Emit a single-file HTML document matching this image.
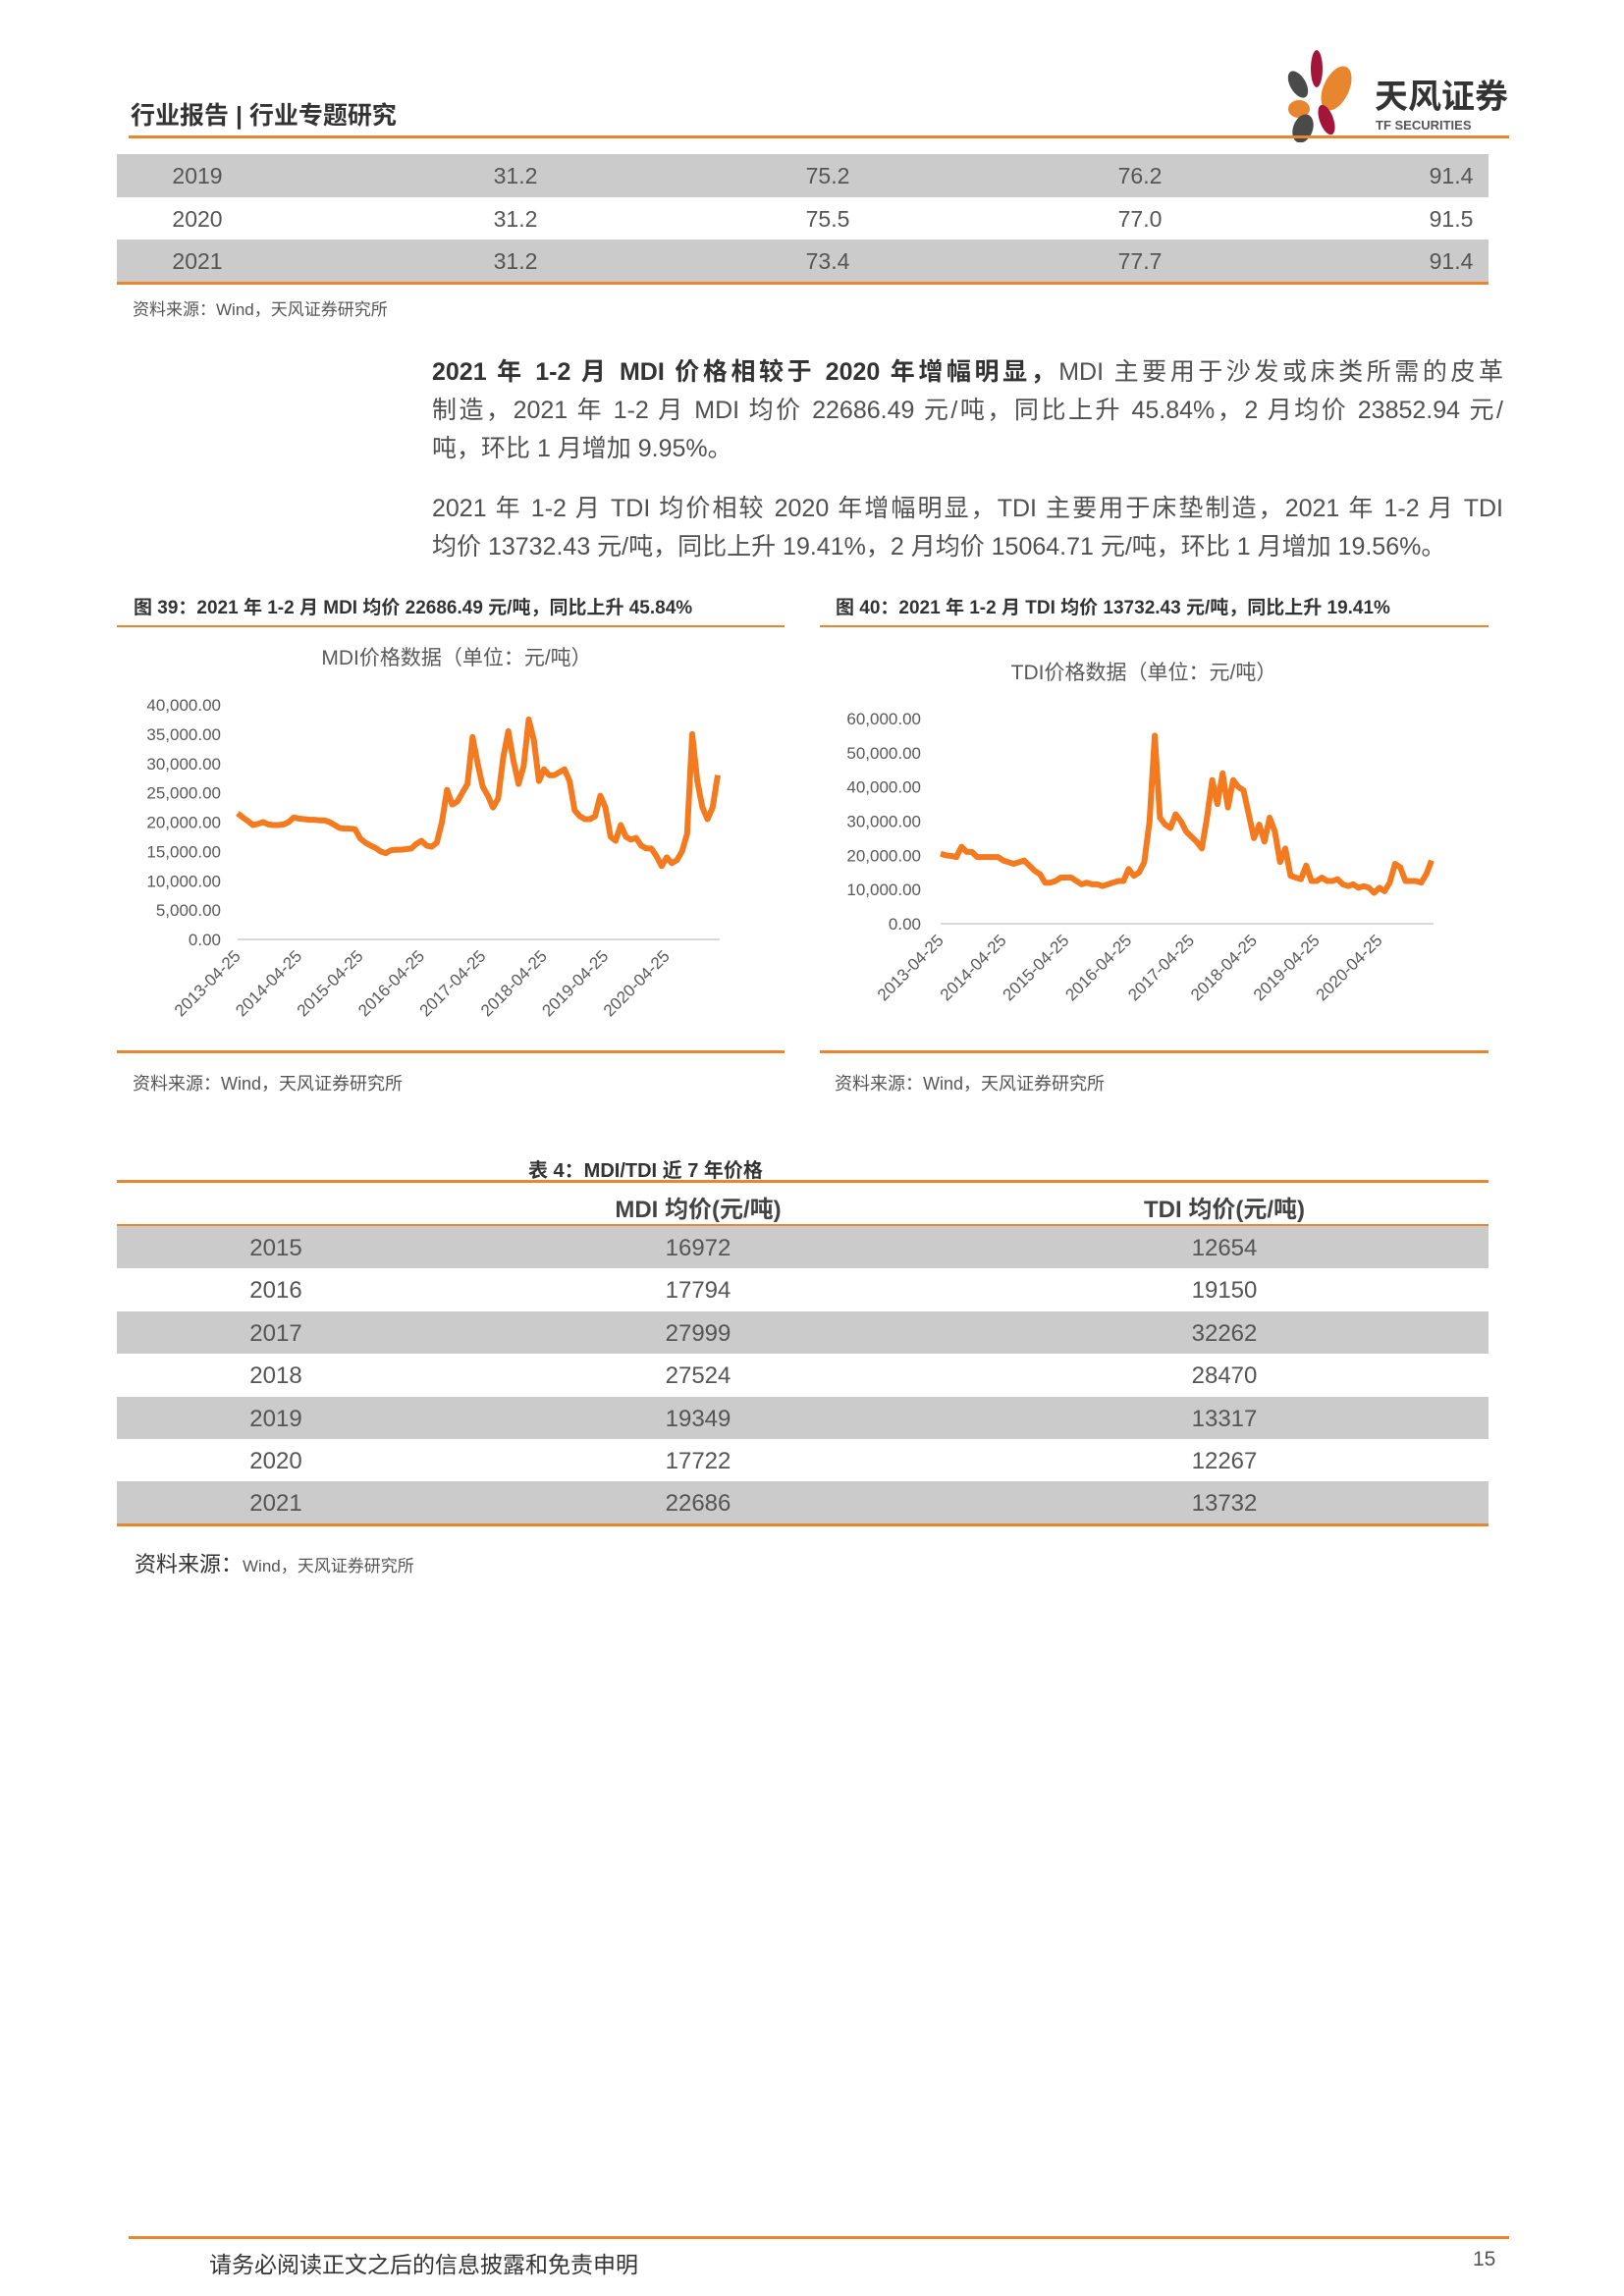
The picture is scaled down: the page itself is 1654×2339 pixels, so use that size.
<!DOCTYPE html>
<html><head><meta charset="utf-8">
<style>
body{margin:0;background:#fff;}
#page{position:relative;width:1654px;height:2339px;overflow:hidden;font-family:"Liberation Sans","Noto Sans CJK SC",sans-serif;color:#404040;}
.a{position:absolute;white-space:nowrap;}
.hl{position:absolute;height:3px;background:#E8862F;}
.row{position:absolute;left:119px;width:1397px;}
.gray{background:#CBCBCB;}
.c{position:absolute;transform:translateX(-50%);}
.para{position:absolute;left:440px;width:1091px;font-size:25px;line-height:39px;color:#505050;}
.para div{text-align:justify;text-align-last:justify;height:39px;white-space:nowrap;}
.para div.last{text-align-last:left;}
</style></head><body>
<div id="page">

<div class="a" style="left:133px;top:98px;font-size:25px;font-weight:bold;color:#333;">行业报告 | 行业专题研究</div>
<svg class="a" style="left:1305px;top:50px" width="240" height="95">
 <ellipse cx="36" cy="20" rx="6" ry="19" fill="#A3163A"/>
 <ellipse cx="17" cy="36" rx="8" ry="15" fill="#4A4A4A" transform="rotate(-30 17 36)"/>
 <ellipse cx="56" cy="40" rx="13" ry="24" fill="#E8862F" transform="rotate(25 56 40)"/>
 <ellipse cx="18" cy="61" rx="11" ry="9" fill="#E8862F"/>
 <ellipse cx="22" cy="81" rx="10" ry="15" fill="#4A4A4A" transform="rotate(20 22 81)"/>
 <ellipse cx="46" cy="72" rx="7" ry="16" fill="#A3163A" transform="rotate(-20 46 72)"/>
 <text x="95" y="60" font-size="34" font-weight="bold" fill="#333" font-family="Liberation Sans, Noto Sans CJK SC, sans-serif">天风证券</text>
 <text x="96" y="82" font-size="13" font-weight="bold" fill="#555" font-family="Liberation Sans, sans-serif">TF SECURITIES</text>
</svg>
<div class="hl" style="left:131px;top:138px;width:1406px;"></div>

<!-- top table -->
<div style="font-size:23px;color:#555;">
 <div class="row gray" style="top:157px;height:44px;">
  <span class="c" style="left:82px;top:9px">2019</span><span class="c" style="left:406px;top:9px">31.2</span><span class="c" style="left:724px;top:9px">75.2</span><span class="c" style="left:1042px;top:9px">76.2</span><span class="c" style="left:1359px;top:9px">91.4</span></div>
 <div class="row" style="top:201px;height:43px;">
  <span class="c" style="left:82px;top:9px">2020</span><span class="c" style="left:406px;top:9px">31.2</span><span class="c" style="left:724px;top:9px">75.5</span><span class="c" style="left:1042px;top:9px">77.0</span><span class="c" style="left:1359px;top:9px">91.5</span></div>
 <div class="row gray" style="top:244px;height:44px;">
  <span class="c" style="left:82px;top:9px">2021</span><span class="c" style="left:406px;top:9px">31.2</span><span class="c" style="left:724px;top:9px">73.4</span><span class="c" style="left:1042px;top:9px">77.7</span><span class="c" style="left:1359px;top:9px">91.4</span></div>
 <div class="hl" style="left:119px;top:287px;width:1397px;"></div>
</div>
<div class="a" style="left:135px;top:301px;font-size:17px;color:#555;">资料来源：Wind，天风证券研究所</div>

<div class="para" style="top:360px">
 <div><b style="color:#333">2021 年 1-2 月 MDI 价格相较于 2020 年增幅明显，</b>MDI 主要用于沙发或床类所需的皮革</div>
 <div>制造，2021 年 1-2 月 MDI 均价 22686.49 元/吨，同比上升 45.84%，2 月均价 23852.94 元/</div>
 <div class="last">吨，环比 1 月增加 9.95%。</div>
</div>
<div class="para" style="top:499px">
 <div>2021 年 1-2 月 TDI 均价相较 2020 年增幅明显，TDI 主要用于床垫制造，2021 年 1-2 月 TDI</div>
 <div class="last">均价 13732.43 元/吨，同比上升 19.41%，2 月均价 15064.71 元/吨，环比 1 月增加 19.56%。</div>
</div>

<div class="a" style="left:136px;top:604px;font-size:19px;font-weight:bold;color:#333;">图 39：2021 年 1-2 月 MDI 均价 22686.49 元/吨，同比上升 45.84%</div>
<div class="hl" style="left:119px;top:637px;width:680px;height:2px"></div>
<div class="a" style="left:851px;top:604px;font-size:19px;font-weight:bold;color:#333;">图 40：2021 年 1-2 月 TDI 均价 13732.43 元/吨，同比上升 19.41%</div>
<div class="hl" style="left:835px;top:637px;width:681px;height:2px"></div>

<svg class="a" id="chartMDI" style="left:0;top:0" width="827" height="1100"></svg>
<svg class="a" id="chartTDI" style="left:0;top:0" width="1654" height="1100"></svg>

<div class="hl" style="left:119px;top:1070px;width:680px;"></div>
<div class="hl" style="left:835px;top:1070px;width:681px;"></div>
<div class="a" style="left:135px;top:1090px;font-size:18px;color:#555;">资料来源：Wind，天风证券研究所</div>
<div class="a" style="left:850px;top:1090px;font-size:18px;color:#555;">资料来源：Wind，天风证券研究所</div>

<!-- table 4 -->
<div class="a" style="left:538px;top:1176px;font-size:20px;font-weight:bold;color:#333;">表 4：MDI/TDI 近 7 年价格</div>
<div class="hl" style="left:119px;top:1202px;width:1397px;"></div>
<div style="font-size:24px;color:#555;">
 <div class="row" style="top:1205px;height:43px;font-weight:bold;color:#444;">
  <span class="c" style="left:592px;top:7px">MDI 均价(元/吨)</span><span class="c" style="left:1128px;top:7px">TDI 均价(元/吨)</span></div>
 <div class="hl" style="left:119px;top:1247px;width:1397px;"></div>
 <div id="t4rows"></div>
 <div class="hl" style="left:119px;top:1552px;width:1397px;"></div>
</div>
<div class="a" style="left:137px;top:1576px;font-size:22px;color:#333;">资料来源：<span style="font-size:17px;color:#555">Wind，天风证券研究所</span></div>

<div class="hl" style="left:131px;top:2278px;width:1406px;"></div>
<div class="a" style="left:213px;top:2288px;font-size:23px;color:#333;">请务必阅读正文之后的信息披露和免责申明</div>
<div class="a" style="left:1500px;top:2290px;font-size:21px;color:#555;">15</div>
</div>

<script>
const t4Years=["2015","2016","2017","2018","2019","2020","2021"];
const t4MDI=[16972,17794,27999,27524,19349,17722,22686];
const t4TDI=[12654,19150,32262,28470,13317,12267,13732];

const xTickLabels=["2013-04-25","2014-04-25","2015-04-25","2016-04-25","2017-04-25","2018-04-25","2019-04-25","2020-04-25"];
const mdiTicks=[0,5000,10000,15000,20000,25000,30000,35000,40000];
const tdiTicks=[0,10000,20000,30000,40000,50000,60000];
const mdiValues=[21500,20800,20200,19500,19700,20000,19600,19500,19500,
19600,20000,20800,20600,20500,20400,20400,20300,20300,20000,19500,19000,
18900,18900,18800,17200,16500,16000,15600,15000,14700,15200,15300,15300,
15400,15500,16300,16800,16000,15800,16500,20000,25500,23000,23500,25000,
26500,34500,30000,26000,24500,22500,24000,31000,35500,30500,26500,29500,
37500,34000,27000,29000,28000,28000,28500,29000,27000,22000,21000,20500,
20500,21000,24500,22500,17500,16800,19500,17500,17000,17300,16000,15500,
15500,14200,12500,14000,13000,13500,15000,18000,35000,27000,22500,20500,
22500,28000];
const tdiValues=[20500,20000,19800,19500,22500,21000,21000,19500,19500,
19500,19500,19500,18500,18000,17500,18000,18500,17000,15500,14500,12000,
12000,12500,13500,13500,13500,12500,11500,12000,11500,11500,11000,11500,
12000,12500,12500,16000,14000,15000,18000,30000,55000,31000,29000,28000,
32000,30000,27000,25500,24000,22000,31000,42000,35000,44000,34000,42000,
40000,39000,32000,25000,29000,24000,31000,27000,18000,22000,14000,13500,
13000,17000,12500,12500,13500,12500,12500,13000,11500,11000,11500,10500,
11000,10500,9000,10500,9500,12000,17500,16500,12500,12500,12500,12000,
14500,18500];

const rows=document.getElementById('t4rows');
t4Years.forEach((y,i)=>{
  const r=document.createElement('div');
  r.className='row'+(i%2===0?' gray':'');
  r.style.top=(1249+i*43.4)+'px';r.style.height='43.4px';
  
  
  r.innerHTML='<span class="c" style="left:162px;top:9px">'+y+'</span><span class="c" style="left:592px;top:9px">'+t4MDI[i]+'</span><span class="c" style="left:1128px;top:9px">'+t4TDI[i]+'</span>';
  rows.appendChild(r);
});

const NS='http://www.w3.org/2000/svg';
function mk(svg,tag,attrs,text){const e=document.createElementNS(NS,tag);for(const k in attrs)e.setAttribute(k,attrs[k]);if(text!==undefined)e.textContent=text;svg.appendChild(e);return e;}
function drawChart(id,cfg){
  const svg=document.getElementById(id);
  const xS=m=>cfg.x0+m*(cfg.x1-cfg.x0)/(cfg.values.length-1);
  const yS=v=>cfg.y0-(v/cfg.vmax)*(cfg.y0-cfg.yTop);
  const t=mk(svg,'text',{x:cfg.titleX,y:cfg.titleY,'font-size':21,fill:'#595959','text-anchor':'middle','font-family':'Liberation Sans, Noto Sans CJK SC, sans-serif'},cfg.title);
  
  
  cfg.ticks.forEach(v=>{
    const l=mk(svg,'text',{x:cfg.labelX,y:yS(v)+6,'font-size':17,fill:'#595959','text-anchor':'end','font-family':'Liberation Sans, sans-serif'},v.toLocaleString('en-US',{minimumFractionDigits:2}));
    
    
  });
  const ax=mk(svg,'line',{x1:cfg.x0,x2:cfg.x1+2,y1:cfg.y0,y2:cfg.y0,stroke:'#D9D9D9','stroke-width':2});
  
  
  xTickLabels.forEach((s,i)=>{
    const x=xS(i*12)+4,y=cfg.y0+18;
    const l=mk(svg,'text',{x:x,y:y,'font-size':17,fill:'#595959','text-anchor':'end','font-family':'Liberation Sans, sans-serif',transform:'rotate(-45 '+x+' '+y+')'},s);
    
    
  });
  const pts=cfg.values.map((v,i)=>xS(i).toFixed(1)+','+yS(v).toFixed(1)).join(' ');
  const p=mk(svg,'polyline',{points:pts,fill:'none',stroke:'#F47A20','stroke-width':6,'stroke-linejoin':'round'});
  
  
}
drawChart('chartMDI',{values:mdiValues,ticks:mdiTicks,vmax:40000,x0:242,x1:731,y0:957,yTop:718,labelX:225,title:'MDI价格数据（单位：元/吨）',titleX:465,titleY:677});
drawChart('chartTDI',{values:tdiValues,ticks:tdiTicks,vmax:60000,x0:958,x1:1458,y0:941,yTop:732,labelX:938,title:'TDI价格数据（单位：元/吨）',titleX:1165,titleY:692});
</script>
</body></html>
